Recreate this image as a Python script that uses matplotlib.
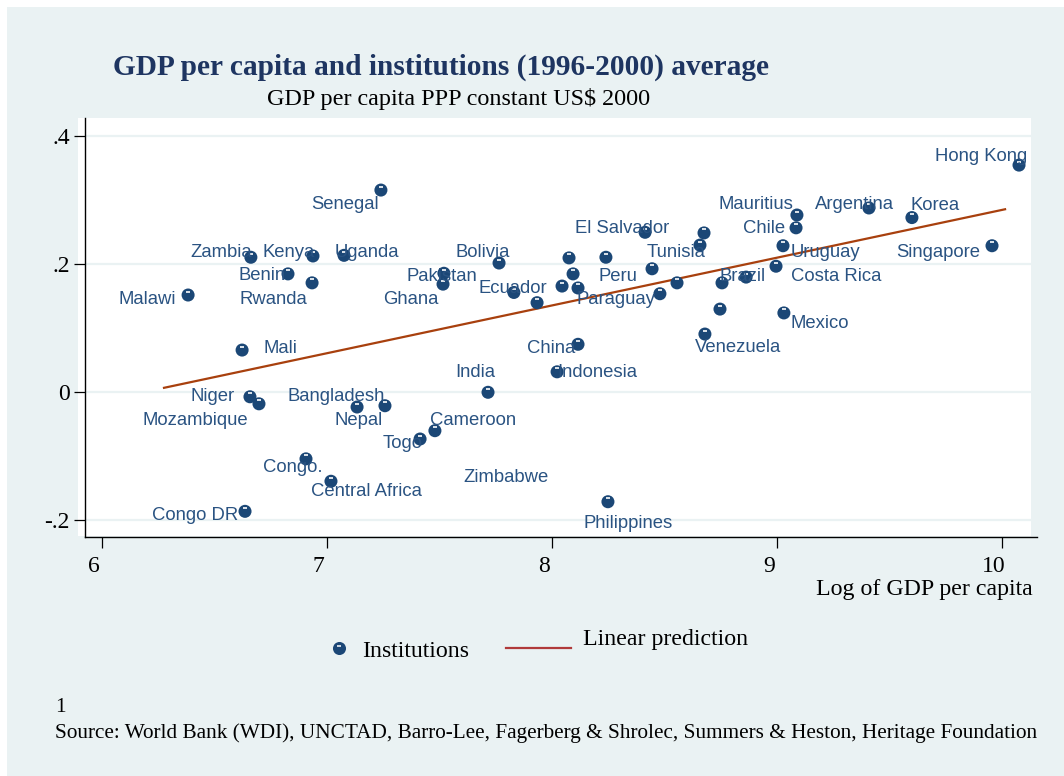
"""GDP per capita vs institutions scatter with linear prediction (Stata s2color look)."""
import matplotlib
matplotlib.use("Agg")
import matplotlib.pyplot as plt
import matplotlib.transforms as mtransforms
from matplotlib.patches import Rectangle
from matplotlib.lines import Line2D

# data
countries = [
    "Hong Kong", "Mauritius", "Argentina", "Korea", "Chile", "Uruguay", "Singapore",
    "Brazil", "Costa Rica", "Mexico", "Venezuela", "El Salvador", "Tunisia", "Peru",
    "Paraguay", "Ecuador", "Bolivia", "Pakistan", "Ghana", "China", "India",
    "Indonesia", "Senegal", "Zambia", "Kenya", "Uganda", "Benin", "Rwanda", "Malawi",
    "Mali", "Niger", "Mozambique", "Bangladesh", "Nepal", "Togo", "Cameroon",
    "Congo.", "Central Africa", "Congo DR", "Philippines",
    "", "", "", "", "", "", "", "", "", "",
]
log_gdp = [
    10.077, 9.090, 9.410, 9.601, 9.086, 9.028, 9.957,
    8.864, 8.997, 9.032, 8.681, 8.415, 8.659, 8.241,
    8.117, 7.832, 7.766, 7.521, 7.517, 8.117, 7.717,
    8.024, 7.241, 6.663, 6.939, 7.077, 6.828, 6.935, 6.384,
    6.624, 6.659, 6.699, 7.135, 7.259, 7.415, 7.481,
    6.908, 7.019, 6.637, 8.250,
    7.935, 8.077, 8.095, 8.046, 8.446, 8.481, 8.557, 8.677, 8.748, 8.757,
]
institutions = [
    0.355, 0.277, 0.288, 0.273, 0.257, 0.229, 0.229,
    0.180, 0.197, 0.124, 0.091, 0.250, 0.230, 0.211,
    0.163, 0.156, 0.202, 0.186, 0.169, 0.075, 0.000,
    0.032, 0.316, 0.211, 0.213, 0.214, 0.185, 0.171, 0.152,
    0.066, -0.007, -0.018, -0.023, -0.021, -0.073, -0.060,
    -0.104, -0.139, -0.186, -0.171,
    0.140, 0.210, 0.185, 0.166, 0.193, 0.154, 0.171, 0.249, 0.130, 0.171,
]
# label that shows without a marker in the source
extra_label = "Zimbabwe"
extra_label_xy = (7.606, -0.140)

fit_x = [6.277, 10.015]
fit_y = [0.007, 0.286]

xticks = [6, 7, 8, 9, 10]
yticks = [-0.2, 0, 0.2, 0.4]
ytick_labels = ["-.2", "0", ".2", ".4"]

# label offsets (pixels, left/baseline of text relative to marker centre)
label_offsets = {
    "Hong Kong": (-84, 4), "Mauritius": (-78, 6), "Argentina": (-54, -1),
    "Korea": (-1, 8), "Chile": (-53, -5), "Uruguay": (8, -11),
    "Singapore": (-96, -11), "Brazil": (-27, -4), "Costa Rica": (15, -15),
    "Mexico": (7, -15), "Venezuela": (-10, -18), "El Salvador": (-70, -1),
    "Tunisia": (-53, -12), "Peru": (-7, -24), "Paraguay": (-2, -16),
    "Ecuador": (-35, -1), "Bolivia": (-44, 6), "Pakistan": (-37, -8),
    "Ghana": (-60, -20), "China": (-51, -9), "India": (-33, 15),
    "Indonesia": (0, -5), "Senegal": (-70, -19), "Zambia": (-60, 0),
    "Kenya": (-50, -1), "Uganda": (-9, -2), "Benin": (-49, -6),
    "Rwanda": (-73, -21), "Malawi": (-70, -9), "Mali": (21, -3),
    "Niger": (-59, -4), "Mozambique": (-116, -21), "Bangladesh": (-70, 6),
    "Nepal": (-50, -19), "Togo": (-37, -9), "Cameroon": (-5, 6),
    "Congo.": (-43, -13), "Central Africa": (-20, -15), "Congo DR": (-93, -9),
    "Philippines": (-24, -26),
}

W, H = 1064, 776
BG = "#eaf2f3"
NAVY = "#1b4776"
LABEL_C = "#2a5382"
FIT_C = "#a8400e"
SERIF = "Liberation Serif"
SANS = "Liberation Sans"


def fx(px):
    return px / W


def fy(py):
    return 1 - py / H


fig = plt.figure(figsize=(W / 100, H / 100), dpi=100, facecolor="white")
fig.patches.append(Rectangle((fx(7), 0), 1 - fx(7), fy(7), transform=fig.transFigure,
                             facecolor=BG, edgecolor="none", zorder=-2))
fig.patches.append(Rectangle((fx(78), fy(536)), fx(1031) - fx(78), fy(118) - fy(536),
                             transform=fig.transFigure, facecolor="white",
                             edgecolor="none", zorder=-1))

ax = fig.add_axes([fx(85), fy(537), fx(1036.7) - fx(85), fy(118) - fy(537)])
ax.set_facecolor("none")
ax.set_xlim(5.9258, 10.1556)
ax.set_ylim(-0.2261, 0.4286)

for yv in yticks:
    ax.axhline(yv, xmin=0, xmax=0.994, color=BG, lw=1.6, zorder=0)

ax.plot(fit_x, fit_y, color=FIT_C, lw=1.6, zorder=2)

ax.scatter(log_gdp, institutions, s=88, color=NAVY, edgecolors="none", zorder=3)
shine = mtransforms.offset_copy(ax.transData, fig=fig, x=0, y=3.5, units="dots")
ax.scatter(log_gdp, institutions, s=9, marker="_", color="white", linewidths=1.4,
           alpha=0.85, transform=shine, zorder=4)

for name, xv, yv in zip(countries, log_gdp, institutions):
    if not name:
        continue
    dx, dy = label_offsets[name]
    ax.annotate(name, (xv, yv), xytext=(dx, dy), textcoords="offset pixels",
                ha="left", va="baseline", fontsize=13.3, family=SANS,
                color=LABEL_C, zorder=5)
ax.text(extra_label_xy[0], extra_label_xy[1], extra_label, ha="left", va="baseline",
        fontsize=13.3, family=SANS, color=LABEL_C, zorder=5)

for side in ["top", "right"]:
    ax.spines[side].set_visible(False)
for side in ["left", "bottom"]:
    ax.spines[side].set_linewidth(1.0)
    ax.spines[side].set_color("black")

ax.set_xticks(xticks)
ax.set_xticklabels([str(v) for v in xticks])
ax.set_yticks(yticks)
ax.set_yticklabels(ytick_labels)
ax.tick_params(axis="both", length=8, width=0.9, color="black", labelsize=17,
               labelcolor="black")
ax.tick_params(axis="x", pad=6)
ax.tick_params(axis="y", pad=3)
for lbl in ax.get_xticklabels() + ax.get_yticklabels():
    lbl.set_family(SERIF)
shift = mtransforms.ScaledTranslation(-8 / 100, 0, fig.dpi_scale_trans)
for lbl in ax.get_xticklabels():
    lbl.set_transform(lbl.get_transform() + shift)

# titles and axis title
fig.text(fx(113), fy(75), "GDP per capita and institutions (1996-2000) average",
         ha="left", va="baseline", fontsize=21.2, fontweight="bold", family=SERIF,
         color="#1e3561")
fig.text(fx(267), fy(105), "GDP per capita PPP constant US$ 2000", ha="left",
         va="baseline", fontsize=17.4, family=SERIF, color="black")
fig.text(fx(1033), fy(595), "Log of GDP per capita", ha="right", va="baseline",
         fontsize=17.2, family=SERIF, color="black")

# legend keys
fig.add_artist(Line2D([fx(339.3)], [fy(648.3)], marker="o", markersize=9.4,
                      color=NAVY, markeredgewidth=0, transform=fig.transFigure))
fig.add_artist(Line2D([fx(339.3)], [fy(645.5)], marker="_", markersize=3.5,
                      color="white", markeredgewidth=1.3, alpha=0.85,
                      transform=fig.transFigure))
fig.text(fx(362.3), fy(656.7), "Institutions", ha="left", va="baseline",
         fontsize=17.2, family=SERIF, color="black")
fig.add_artist(Line2D([fx(505.7), fx(570.7)], [fy(648.3), fy(648.3)], color="#b03a3a",
                      lw=1.6, transform=fig.transFigure))
fig.text(fx(583.3), fy(645), "Linear prediction", ha="left", va="baseline",
         fontsize=17.2, family=SERIF, color="black")

# notes
fig.text(fx(55), fy(712), "1", ha="left", va="baseline", fontsize=15.3, family=SERIF,
         color="black")
fig.text(fx(55), fy(738),
         "Source: World Bank (WDI), UNCTAD, Barro-Lee, Fagerberg & Shrolec, "
         "Summers & Heston, Heritage Foundation",
         ha="left", va="baseline", fontsize=15.3, family=SERIF, color="black")

fig.savefig("out.png", dpi=100, facecolor=fig.get_facecolor())
